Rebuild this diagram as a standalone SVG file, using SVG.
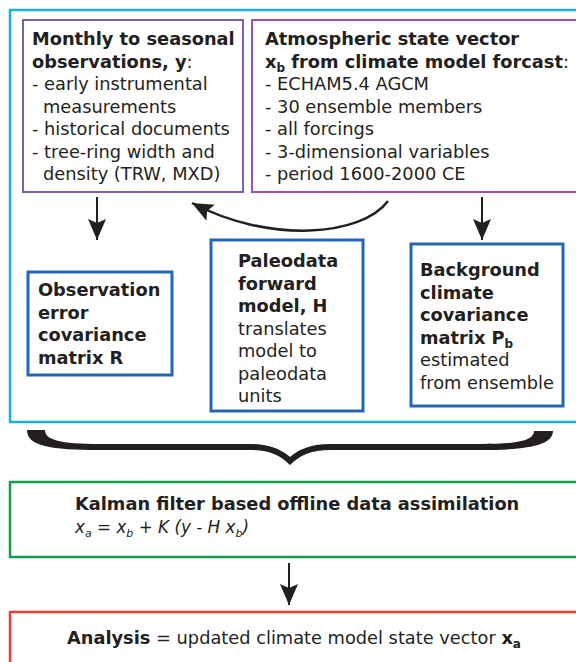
<svg xmlns="http://www.w3.org/2000/svg" width="576" height="662" viewBox="0 0 576 662">
<style>
text{font-family:"DejaVu Sans","Liberation Sans",sans-serif;font-size:17.8px;fill:#231f20}
.b{font-weight:bold}
.it{font-style:italic;font-size:16.8px}
.box{fill:#fff}
.conn line,.conn path.l{stroke:#231f20;stroke-width:2;fill:none}
</style>
<defs>
<marker id="ah" markerUnits="userSpaceOnUse" markerWidth="24" markerHeight="24" viewBox="-22 -11 24 22" refX="0" refY="0" orient="auto">
<path d="M0,0 L-21,-9 L-17,0 L-21,9 Z" fill="#231f20"/>
</marker>
</defs>
<rect id="outer" x="10" y="10" width="600" height="412" fill="#fff" stroke="#14b1e2" stroke-width="2.5"/>
<g id="obs">
<rect class="box" x="23" y="20" width="220" height="172" stroke="#7e5fad" stroke-width="2"/>
<text x="32" y="45" class="b">Monthly to seasonal</text>
<text x="32" y="67.5"><tspan class="b">observations, y</tspan>:</text>
<text x="32" y="90">- early instrumental</text>
<text x="43" y="112.5">measurements</text>
<text x="32" y="135">- historical documents</text>
<text x="32" y="157.5">- tree-ring width and</text>
<text x="43" y="180">density (TRW, MXD)</text>
</g>
<g id="atm">
<rect class="box" x="252" y="20" width="330" height="172" stroke="#a24ea8" stroke-width="2"/>
<text x="265" y="45" class="b">Atmospheric state vector</text>
<text x="265" y="67.5"><tspan class="b">x</tspan><tspan class="b" font-size="12" dy="4">b</tspan><tspan class="b" dy="-4"> from climate model forcast</tspan>:</text>
<text x="265" y="90">- ECHAM5.4 AGCM</text>
<text x="265" y="112.5">- 30 ensemble members</text>
<text x="265" y="135">- all forcings</text>
<text x="265" y="157.5">- 3-dimensional variables</text>
<text x="265" y="180">- period 1600-2000 CE</text>
</g>
<g id="obserr">
<rect class="box" x="28" y="272" width="144" height="103" stroke="#2566b0" stroke-width="3"/>
<text x="38" y="296" class="b">Observation</text>
<text x="38" y="318.5" class="b">error</text>
<text x="38" y="341" class="b">covariance</text>
<text x="38" y="363.5" class="b">matrix R</text>
</g>
<g id="fwd">
<rect class="box" x="211" y="240" width="152" height="171" stroke="#2566b0" stroke-width="3"/>
<text x="238" y="267" class="b">Paleodata</text>
<text x="238" y="289.5" class="b">forward</text>
<text x="238" y="312" class="b">model, H</text>
<text x="238" y="334.5">translates</text>
<text x="238" y="357">model to</text>
<text x="238" y="379.5">paleodata</text>
<text x="238" y="402">units</text>
</g>
<g id="bg">
<rect class="box" x="411" y="244" width="152" height="162" stroke="#2566b0" stroke-width="3"/>
<text x="420" y="276" class="b">Background</text>
<text x="420" y="298.5" class="b">climate</text>
<text x="420" y="321" class="b">covariance</text>
<text x="420" y="343.5"><tspan class="b">matrix P</tspan><tspan class="b" font-size="12" dy="4">b</tspan></text>
<text x="420" y="366">estimated</text>
<text x="420" y="388.5">from ensemble</text>
</g>
<g id="kalman">
<rect class="box" x="10" y="482" width="600" height="75" stroke="#179c4c" stroke-width="2.5"/>
<text x="75" y="510" class="b">Kalman filter based offline data assimilation</text>
<text x="75" y="533" class="it">x<tspan font-size="11" dy="4">a</tspan><tspan dy="-4"> = x</tspan><tspan font-size="11" dy="4">b</tspan><tspan dy="-4"> + K (y - H x</tspan><tspan font-size="11" dy="4">b</tspan><tspan dy="-4">)</tspan></text>
</g>
<g id="analysis">
<rect class="box" x="10" y="612" width="600" height="80" stroke="#ee3e32" stroke-width="2.5"/>
<text x="67" y="644"><tspan class="b">Analysis</tspan> = updated climate model state vector <tspan class="b">x</tspan><tspan class="b" font-size="12" dy="4">a</tspan></text>
</g>
<g id="connectors" class="conn">
<line x1="97" y1="197" x2="97" y2="240" marker-end="url(#ah)"/>
<line x1="482" y1="197" x2="482" y2="240" marker-end="url(#ah)"/>
<path class="l" d="M388,201 C362,236 270,244 192,203" style="stroke-width:2.5" marker-end="url(#ah)"/>
<line x1="289" y1="563" x2="289" y2="605" marker-end="url(#ah)"/>
<path d="M27,430 L45,430 C45,440 60,444 100,444 L250,444 C270,444 282,450 290,457 C298,450 310,444 330,444 L480,444 C520,444 534,440 534,431 L553,431 C553,446 525,450 480,450 L330,450 C312,450 300,455 290,465 C280,455 268,450 250,450 L100,450 C50,450 27,446 27,430 Z" fill="#231f20"/>
</g>
</svg>
